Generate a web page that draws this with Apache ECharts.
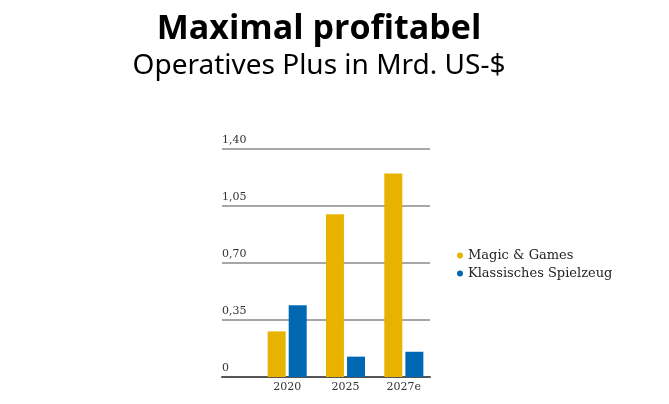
<!DOCTYPE html>
<html>
<head>
<meta charset="utf-8">
<script src="https://cdn.jsdelivr.net/npm/echarts@6/dist/echarts.min.js"></script>
<style>
  html, body { margin: 0; padding: 0; background: #fff; }
  #chart { width: 669px; height: 404px; }
</style>
</head>
<body>
<div id="chart"></div>
<script>
// Daten
var years = ['2020', '2025', '2027e'];
var magicGames = [0.28, 1.00, 1.25];
var klassisch = [0.44, 0.125, 0.155];
var yTicks = [0, 0.35, 0.70, 1.05, 1.40];

var serif = '"DejaVu Serif", "Liberation Serif", serif';

var myChart = echarts.init(document.getElementById('chart'));
var option = {
    backgroundColor: '#fff',
    animation: false,
    title: [
        {
            text: 'Maximal profitabel',
            left: 314,
            textAlign: 'center',
            top: 7,
            textStyle: { fontFamily: 'Open Sans', fontWeight: 'bold', fontSize: 34, color: '#000' }
        },
        {
            text: 'Operatives Plus in Mrd. US-$',
            left: 314,
            textAlign: 'center',
            top: 47,
            textStyle: { fontFamily: 'Noto Sans', fontWeight: 'normal', fontSize: 28, color: '#000' }
        }
    ],
    legend: {
        orient: 'vertical',
        left: 452,
        top: 244,
        icon: 'circle',
        itemWidth: 6,
        itemHeight: 6,
        itemGap: 5,
        textStyle: { fontFamily: serif, fontSize: 13, color: '#222' },
        data: ['Magic & Games', 'Klassisches Spielzeug']
    },
    grid: [
        { left: 222, right: 239, top: 149, bottom: 27 },
        { left: 258, right: 236, top: 149, bottom: 27 }
    ],
    xAxis: [
        {
            type: 'category',
            gridIndex: 0,
            data: years,
            axisLine: { show: true, lineStyle: { color: '#555', width: 2 } },
            axisTick: { show: false },
            axisLabel: { show: false }
        },
        {
            type: 'category',
            gridIndex: 1,
            data: years,
            axisLine: { show: false },
            axisTick: { show: false },
            axisLabel: { fontFamily: serif, fontSize: 11, color: '#333', margin: 5 }
        }
    ],
    yAxis: [
        {
            type: 'value',
            gridIndex: 0,
            min: 0,
            max: 1.40,
            interval: 0.35,
            axisLine: { show: false },
            axisTick: { show: false },
            splitLine: { lineStyle: { color: '#8a8a8a', width: 1.5 } },
            axisLabel: {
                inside: true,
                align: 'left',
                verticalAlign: 'bottom',
                margin: 0,
                padding: [0, 0, 3, 0],
                fontFamily: serif,
                fontSize: 11,
                color: '#333',
                formatter: function (v) {
                    if (v === 0) return '0';
                    return v.toFixed(2).replace('.', ',');
                }
            }
        },
        {
            type: 'value',
            gridIndex: 1,
            min: 0,
            max: 1.40,
            interval: 0.35,
            show: false,
            splitLine: { show: false }
        }
    ],
    series: [
        {
            name: 'Magic & Games',
            type: 'bar',
            xAxisIndex: 1,
            yAxisIndex: 1,
            barWidth: 18,
            barGap: '17%',
            itemStyle: { color: '#e8b300' },
            data: magicGames
        },
        {
            name: 'Klassisches Spielzeug',
            type: 'bar',
            xAxisIndex: 1,
            yAxisIndex: 1,
            barWidth: 18,
            barGap: '17%',
            itemStyle: { color: '#0068b3' },
            data: klassisch
        }
    ]
};
myChart.setOption(option);
</script>
</body>
</html>
